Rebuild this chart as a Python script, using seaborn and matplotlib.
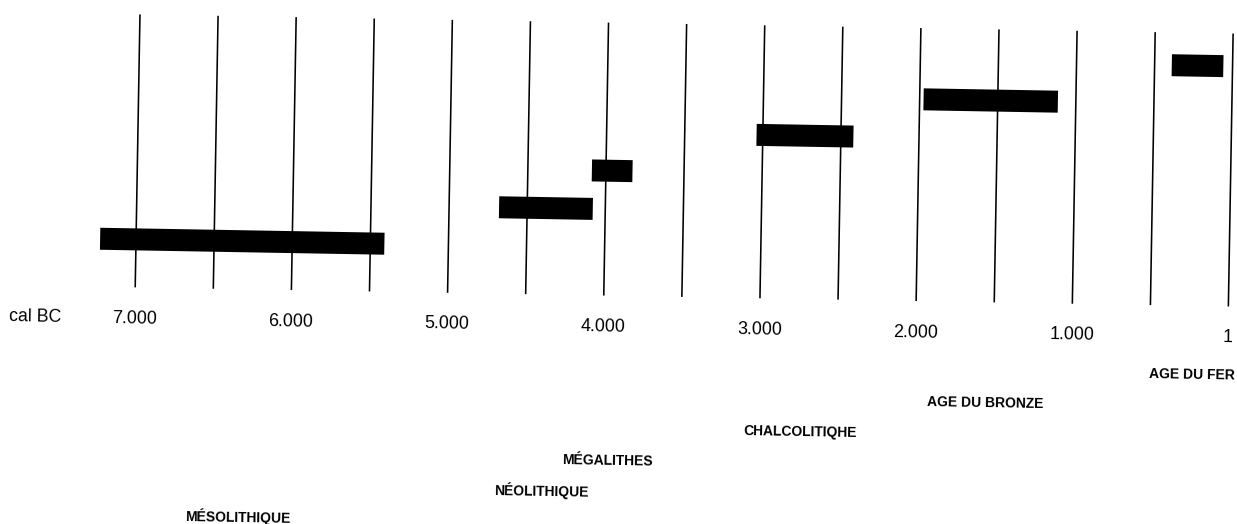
import matplotlib
matplotlib.use("Agg")
import matplotlib.pyplot as plt
from matplotlib.transforms import Affine2D
from matplotlib.patches import Patch
import seaborn as sns

# Chronology of periods, in years cal BC (start = older end of the bar)
periods = ["MÉSOLITHIQUE", "NÉOLITHIQUE", "MÉGALITHES", "CHALCOLITIQHE",
           "AGE DU BRONZE", "AGE DU FER"]
start_bc = [7230, 4680, 4090, 3040, 1975, 390]
end_bc = [5410, 4080, 3830, 2420, 1115, 60]

# Time scale
grid_years = [7000, 6500, 6000, 5500, 5000, 4500, 4000, 3500,
              3000, 2500, 2000, 1500, 1000, 500, 1]
tick_years = [7000, 6000, 5000, 4000, 3000, 2000, 1000, 1]
tick_labels = ["7.000", "6.000", "5.000", "4.000", "3.000", "2.000", "1.000", "1"]
axis_label = "cal BC"

sns.set_theme(style="white")
plt.rcParams["font.family"] = ["Liberation Sans", "DejaVu Sans"]

W, H, DPI = 1237, 524, 100
fig = plt.figure(figsize=(W / DPI, H / DPI), dpi=DPI)
fig.patch.set_facecolor("white")
ax = fig.add_axes([0, 0, 1, 1])
ax.set_facecolor("white")

rows = list(range(len(periods)))
widths = [s - e for s, e in zip(start_bc, end_bc)]
ax.barh(rows, widths, left=end_bc, height=0.572, color="black",
        edgecolor="none", zorder=3)

# Vertical reference lines every 500 years
xt = ax.get_xaxis_transform()
ax.vlines(grid_years, 1 - 285 / H, 1 - 12 / H, transform=xt,
          colors="black", linewidth=1.15, zorder=2)

# Scale labels
for yr, lab in zip(tick_years, tick_labels):
    ax.text(yr, 1 - 321 / H, lab, transform=xt, ha="center", va="baseline",
            fontsize=12.8, color="black", rotation=-1.0, rotation_mode="anchor")
ax.text(38.5 / W, 1 - 321 / H, axis_label, transform=ax.transAxes,
        ha="center", va="baseline", fontsize=12.8, color="black",
        rotation=-1.0, rotation_mode="anchor")

# Period names, stepped below the scale and centred on each bar
for k, (name, s, e) in enumerate(zip(periods, start_bc, end_bc)):
    y_px = 518 - 32.08 * k
    ax.text((s + e) / 2, 1 - y_px / H, name, transform=xt, ha="center",
            va="baseline", fontsize=10, fontweight="bold", color="black",
            rotation=-1.0, rotation_mode="anchor")

ax.set_xlim(7880.2, -38.6)
ax.set_ylim(-7.466, 6.165)
ax.axis("off")

# Slight clockwise tilt of the whole sheet
tilt = Affine2D().rotate_deg_around(0, H - 155, -1.0)
for art in list(ax.patches) + list(ax.collections) + list(ax.texts):
    if isinstance(art, Patch):
        art.set_transform(art.get_data_transform() + tilt)
    else:
        art.set_transform(art.get_transform() + tilt)
    art.set_clip_on(False)

fig.savefig("out.png", dpi=DPI, facecolor="white")
